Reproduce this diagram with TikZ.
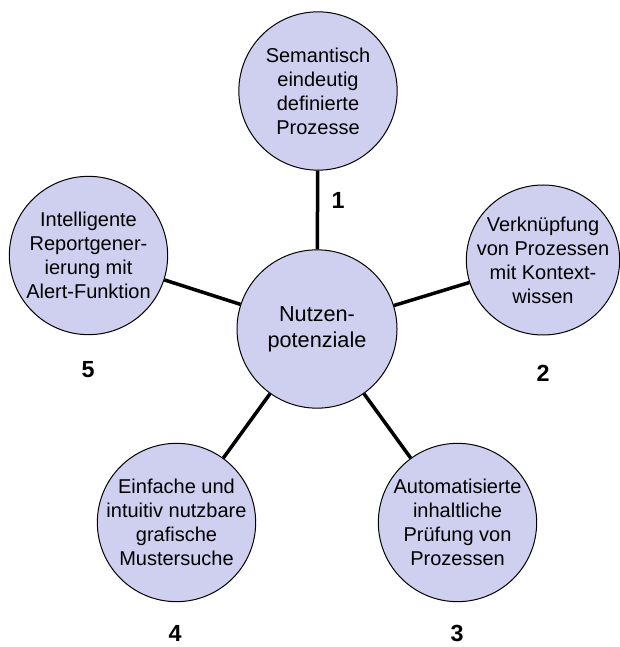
\documentclass[tikz,border=0pt]{standalone}
\usepackage{fontspec}
\setmainfont{Liberation Sans}
\usetikzlibrary{shapes.geometric}
\definecolor{nutzfill}{RGB}{207,207,239}

\begin{document}
\begin{tikzpicture}[x=0.6pt, y=-0.6pt, font=\fontsize{12}{14.4}\selectfont,
  bubble/.style={draw, ellipse, fill=nutzfill, align=center, inner sep=-20pt, line width=0.6pt,
    minimum width=95pt, minimum height=95pt},
  num/.style={font=\fontsize{14}{16}\selectfont\bfseries},
  spoke/.style={line width=2.1pt}]
  \useasboundingbox (0,0) rectangle (619,647);
  \node[bubble, minimum width=96pt, font=\fontsize{13}{15.6}\selectfont] (hub) at (317,329) {Nutzen-\\potenziale};
  \node[bubble] (sem) at (318,91) {Semantisch\\eindeutig\\definierte\\Prozesse};
  \node[bubble, minimum width=92pt, minimum height=90pt] (ctx) at (543,260) {Verknüpfung\\von Prozessen\\mit Kontext-\\wissen};
  \node[bubble] (auto) at (457.5,522.5) {Automatisierte\\inhaltliche\\Prüfung von\\Prozessen};
  \node[bubble] (muster) at (176.5,522.5) {Einfache und\\intuitiv nutzbare\\grafische\\Mustersuche};
  \node[bubble] (report) at (88.5,255.5) {Intelligente\\Reportgener-\\ierung mit\\Alert-Funktion};
  % spokes
  \foreach \n in {sem,ctx,auto,muster,report}
    \draw[spoke] (hub) -- (\n);
  % numbers
  \node[num] (n1) at (338,200) {1};
  \node[num] (n2) at (543,373) {2};
  \node[num] (n3) at (457,633) {3};
  \node[num] (n4) at (175,633) {4};
  \node[num] (n5) at (88,370) {5};
\end{tikzpicture}
\end{document}
